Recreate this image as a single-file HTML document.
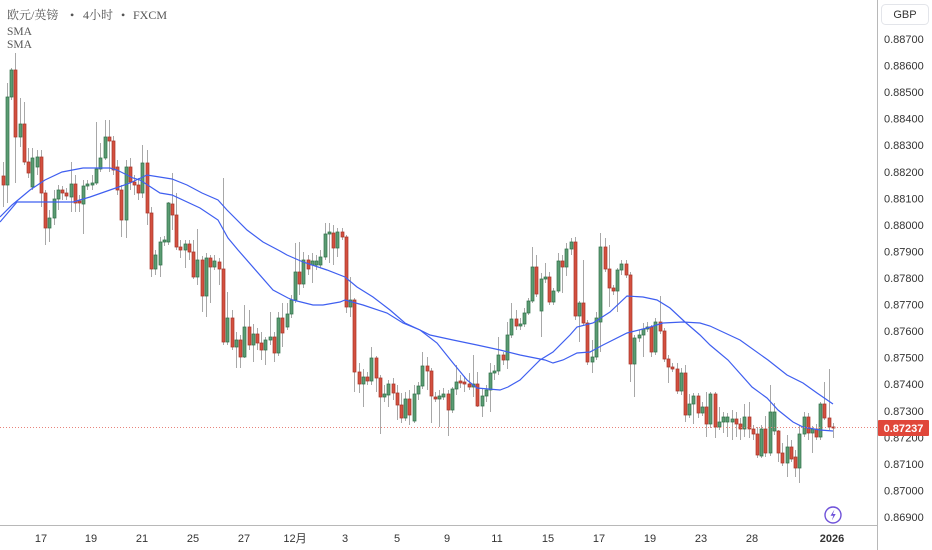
<!DOCTYPE html>
<html><head><meta charset="utf-8"><style>
html,body{margin:0;padding:0;background:#fff;}
svg{display:block;}
.ax{font-family:"Liberation Sans","Noto Sans CJK SC",sans-serif;font-size:11px;fill:#333;}
.lg{font-family:"Liberation Serif","Noto Serif CJK SC",serif;font-size:12px;fill:#555;}
</style></head><body>
<svg width="932" height="550" viewBox="0 0 932 550" xmlns="http://www.w3.org/2000/svg">
<rect width="932" height="550" fill="#fff"/>
<!-- wicks -->
<path fill="none" stroke="#a8a8a8" stroke-width="1" d="M3.5 162V207M7.5 83V203M11.5 68V100M15.5 53V183M20.5 98V147M24.5 102V165M28.5 148V178M32.5 148V190M37.5 150V175M41.5 150V207M45.5 190V245M49.5 210V242M54.5 190V225M58.5 185V210M62.5 186V200M66.5 188V200M71.5 162V212M75.5 175V212M79.5 195V212M83.5 180V234M87.5 180V190M92.5 175V190M96.5 122V185M100.5 143V172M105.5 120V160M109.5 120V172M113.5 136V175M117.5 160V195M121.5 185V237M126.5 160V238M130.5 158V190M134.5 175V195M138.5 178V200M142.5 145V198M147.5 150V225M151.5 207V277M155.5 250V275M160.5 237V277M164.5 236V246M168.5 202V245M172.5 173V230M176.5 193V250M180.5 240V258M185.5 240V268M189.5 240V260M193.5 240V279M197.5 229V285M202.5 256V312M206.5 253V317M210.5 255V303M214.5 255V270M219.5 258V285M223.5 178V345M227.5 292V345M232.5 310V350M236.5 332V368M240.5 335V368M244.5 305V358M249.5 310V350M253.5 324V362M257.5 328V350M261.5 332V360M265.5 337V365M270.5 312V345M274.5 332V362M278.5 312V356M282.5 303V347M287.5 303V330M291.5 295V318M295.5 243V303M299.5 242V295M303.5 252V288M308.5 255V275M312.5 253V283M316.5 255V270M320.5 250V268M325.5 223V260M329.5 223V263M333.5 225V265M337.5 228V257M342.5 228V240M346.5 235V313M350.5 277V317M354.5 298V392M359.5 363V393M363.5 369V407M367.5 372V385M371.5 347V385M376.5 356V392M380.5 375V434M384.5 385V402M388.5 380V407M393.5 378V400M397.5 385V420M401.5 393V423M405.5 392V421M409.5 390V425M414.5 385V423M418.5 382V400M422.5 352V389M427.5 357V390M431.5 368V423M435.5 392V402M439.5 390V427M443.5 388V400M448.5 390V436M452.5 387V413M456.5 365V395M460.5 375V388M464.5 376V392M469.5 373V390M473.5 355V397M477.5 372V407M482.5 388V417M486.5 385V402M490.5 363V412M494.5 365V380M498.5 337V375M503.5 352V365M507.5 322V369M511.5 303V338M516.5 310V330M520.5 318V330M524.5 308V327M528.5 298V315M532.5 247V303M536.5 255V297M541.5 273V337M545.5 263V283M549.5 272V305M553.5 288V305M558.5 253V293M562.5 255V293M566.5 243V276M571.5 238V255M575.5 237V320M579.5 301V342M583.5 260V326M587.5 320V365M592.5 340V373M596.5 312V360M600.5 233V352M605.5 238V272M609.5 245V307M613.5 285V295M617.5 268V312M621.5 260V275M626.5 260V278M630.5 272V382M634.5 335V397M639.5 330V342M643.5 323V357M647.5 322V332M651.5 325V357M655.5 318V355M660.5 296V334M664.5 328V362M668.5 355V383M672.5 363V372M677.5 363V394M681.5 368V395M685.5 365V422M689.5 394V418M693.5 393V424M698.5 393V418M702.5 402V416M706.5 392V437M710.5 392V428M715.5 392V438M719.5 407V430M723.5 412V433M727.5 413V437M732.5 410V440M736.5 412V437M740.5 418V440M744.5 404V437M749.5 402V438M753.5 425V440M757.5 427V458M761.5 425V458M765.5 416V457M770.5 385V456M774.5 403V435M778.5 430V462M782.5 443V466M787.5 435V477M791.5 440V462M795.5 450V477M799.5 425V483M804.5 412V437M808.5 413V440M812.5 426V453M816.5 424V440M820.5 402V440M824.5 382V420M829.5 369V430M833.5 423V438"/>
<!-- green bodies -->
<path fill="#5b9c73" stroke="#2f7148" stroke-width="0.7" d="M6 97h3v88h-3zM10 70h3v27h-3zM19 124h3v13h-3zM31 158h3v29h-3zM36 157h3v10h-3zM48 218h3v10h-3zM53 199h3v19h-3zM57 190h3v9h-3zM70 184h3v13h-3zM82 186h3v18h-3zM86 184h3v2h-3zM91 183h3v2h-3zM95 169h3v14h-3zM99 158h3v11h-3zM104 137h3v21h-3zM125 167h3v53h-3zM141 163h3v30h-3zM154 255h3v14h-3zM159 242h3v23h-3zM163 240h3v2h-3zM167 203h3v39h-3zM184 244h3v6h-3zM196 260h3v17h-3zM205 258h3v38h-3zM213 261h3v6h-3zM226 318h3v24h-3zM235 340h3v7h-3zM243 327h3v30h-3zM252 334h3v11h-3zM264 340h3v10h-3zM269 337h3v3h-3zM277 318h3v35h-3zM286 314h3v13h-3zM290 300h3v14h-3zM294 272h3v28h-3zM302 260h3v24h-3zM311 261h3v4h-3zM315 261h3v4h-3zM319 257h3v8h-3zM324 234h3v23h-3zM328 232h3v2h-3zM336 232h3v16h-3zM349 300h3v7h-3zM362 377h3v7h-3zM370 358h3v23h-3zM383 394h3v3h-3zM387 384h3v11h-3zM404 399h3v19h-3zM413 394h3v27h-3zM417 386h3v8h-3zM421 366h3v20h-3zM438 396h3v3h-3zM442 394h3v3h-3zM451 389h3v21h-3zM455 382h3v7h-3zM472 384h3v3h-3zM481 396h3v10h-3zM485 390h3v6h-3zM489 373h3v17h-3zM493 371h3v2h-3zM497 355h3v16h-3zM506 335h3v25h-3zM510 319h3v16h-3zM519 324h3v2h-3zM523 313h3v11h-3zM527 301h3v12h-3zM531 267h3v34h-3zM540 279h3v32h-3zM544 277h3v2h-3zM552 291h3v11h-3zM557 261h3v30h-3zM565 249h3v18h-3zM570 242h3v7h-3zM578 303h3v13h-3zM591 357h3v5h-3zM595 318h3v39h-3zM599 247h3v75h-3zM616 270h3v21h-3zM620 264h3v6h-3zM633 338h3v26h-3zM638 335h3v3h-3zM642 329h3v6h-3zM646 327h3v2h-3zM654 322h3v30h-3zM680 373h3v18h-3zM688 404h3v11h-3zM692 396h3v8h-3zM701 407h3v6h-3zM709 394h3v30h-3zM718 422h3v5h-3zM722 417h3v5h-3zM726 417h3v5h-3zM731 419h3v3h-3zM743 417h3v12h-3zM760 429h3v27h-3zM769 412h3v41h-3zM773 412h3v19h-3zM786 447h3v16h-3zM798 434h3v34h-3zM803 417h3v17h-3zM811 429h3v4h-3zM819 404h3v33h-3z"/>
<!-- red bodies -->
<path fill="#d4503f" stroke="#a8352a" stroke-width="0.7" d="M2 176h3v9h-3zM14 70h3v67h-3zM23 124h3v38h-3zM27 162h3v11h-3zM40 157h3v36h-3zM44 193h3v35h-3zM61 190h3v3h-3zM65 193h3v3h-3zM74 184h3v19h-3zM78 201h3v2h-3zM108 137h3v4h-3zM112 141h3v29h-3zM116 167h3v23h-3zM120 190h3v30h-3zM129 167h3v15h-3zM133 182h3v3h-3zM137 185h3v8h-3zM146 163h3v50h-3zM150 213h3v56h-3zM171 204h3v11h-3zM175 215h3v32h-3zM179 247h3v3h-3zM188 244h3v8h-3zM192 252h3v25h-3zM201 260h3v36h-3zM209 258h3v9h-3zM218 262h3v7h-3zM222 269h3v73h-3zM231 318h3v29h-3zM239 340h3v17h-3zM248 327h3v18h-3zM256 334h3v9h-3zM260 343h3v7h-3zM273 337h3v16h-3zM281 318h3v15h-3zM298 272h3v12h-3zM307 260h3v9h-3zM332 233h3v15h-3zM341 232h3v5h-3zM345 237h3v70h-3zM353 300h3v72h-3zM358 372h3v12h-3zM366 377h3v4h-3zM375 358h3v20h-3zM379 378h3v19h-3zM392 384h3v9h-3zM396 393h3v12h-3zM400 405h3v13h-3zM408 399h3v16h-3zM426 366h3v5h-3zM430 371h3v25h-3zM434 397h3v2h-3zM447 394h3v16h-3zM459 381h3v2h-3zM463 382h3v2h-3zM468 384h3v3h-3zM476 384h3v22h-3zM502 355h3v5h-3zM515 319h3v7h-3zM535 267h3v27h-3zM548 277h3v25h-3zM561 261h3v6h-3zM574 242h3v74h-3zM582 303h3v20h-3zM586 323h3v39h-3zM604 247h3v22h-3zM608 269h3v19h-3zM612 288h3v3h-3zM625 264h3v11h-3zM629 275h3v89h-3zM650 327h3v25h-3zM659 322h3v9h-3zM663 331h3v28h-3zM667 359h3v8h-3zM671 367h3v2h-3zM676 369h3v22h-3zM684 373h3v42h-3zM697 396h3v17h-3zM705 407h3v17h-3zM714 394h3v33h-3zM735 419h3v5h-3zM739 424h3v5h-3zM748 417h3v12h-3zM752 429h3v5h-3zM756 434h3v21h-3zM764 429h3v24h-3zM777 431h3v22h-3zM781 453h3v10h-3zM790 447h3v12h-3zM794 457h3v11h-3zM807 417h3v16h-3zM815 429h3v8h-3zM823 404h3v14h-3zM828 418h3v9h-3zM832 427h3v1h-3z"/>
<!-- SMA lines -->
<polyline fill="none" stroke="#3f5ff0" stroke-width="1.2" points="0,217 12,205 30,190 45,180 62,172 83,168 110,168 117,170 133,178 140,180 160,193 172,195 200,208 218,220 228,238 238,250 273,290 288,298 293,300 313,305 323,305 340,302 345,300 363,305 387,313 403,323 420,330 437,343 453,363 467,380 477,388 500,390 508,387 520,380 530,370 540,360 553,352 570,335 577,327 593,323 610,312 627,296 643,297 657,300 670,308 685,322 700,335 710,345 728,360 752,387 767,398 778,410 793,422 803,427 820,430 833,431"/>
<polyline fill="none" stroke="#3f5ff0" stroke-width="1.2" points="0,222 17,202 40,202 73,202 90,197 110,190 130,183 147,175 172,179 187,185 202,193 218,200 227,210 247,230 263,242 280,251 287,255 303,262 327,270 345,277 357,287 373,297 390,310 405,323 420,330 430,335 453,340 477,345 500,350 520,355 545,360 553,363 563,360 577,353 590,352 603,345 627,333 647,328 663,323 683,322 700,323 710,326 740,340 768,360 787,375 803,383 817,393 833,404"/>
<!-- current price dotted line -->
<line x1="0" y1="427.5" x2="877" y2="427.5" stroke="#e8837a" stroke-width="1" stroke-dasharray="1,2"/>
<!-- axes -->
<line x1="877.5" y1="0" x2="877.5" y2="550" stroke="#b8b8b8" stroke-width="1"/>
<line x1="0" y1="525.5" x2="877" y2="525.5" stroke="#b8b8b8" stroke-width="1"/>
<!-- legend -->
<text class="lg" x="7" y="19">欧元/英镑</text>
<text class="lg" x="70" y="19">•</text>
<text class="lg" x="83" y="19">4小时</text>
<text class="lg" x="121" y="19">•</text>
<text class="lg" x="133" y="19">FXCM</text>
<text class="lg" x="7" y="35" style="font-size:11.5px">SMA</text>
<text class="lg" x="7" y="48" style="font-size:11.5px">SMA</text>
<!-- GBP box -->
<rect x="881.5" y="4.5" width="47" height="20" rx="4" fill="#fff" stroke="#e3e5ea"/>
<text class="ax" x="905" y="18" text-anchor="middle">GBP</text>
<!-- price labels -->
<g class="ax">
<text x="884" y="43">0.88700</text>
<text x="884" y="69.6">0.88600</text>
<text x="884" y="96.1">0.88500</text>
<text x="884" y="122.7">0.88400</text>
<text x="884" y="149.2">0.88300</text>
<text x="884" y="175.8">0.88200</text>
<text x="884" y="202.3">0.88100</text>
<text x="884" y="228.9">0.88000</text>
<text x="884" y="255.4">0.87900</text>
<text x="884" y="282">0.87800</text>
<text x="884" y="308.6">0.87700</text>
<text x="884" y="335.1">0.87600</text>
<text x="884" y="361.7">0.87500</text>
<text x="884" y="388.2">0.87400</text>
<text x="884" y="414.8">0.87300</text>
<text x="884" y="441.3">0.87200</text>
<text x="884" y="467.9">0.87100</text>
<text x="884" y="494.4">0.87000</text>
<text x="884" y="521">0.86900</text>
</g>
<!-- current price label -->
<rect x="878" y="420" width="51" height="16" rx="1" fill="#e0473a"/>
<text x="903.5" y="432" text-anchor="middle" style="font-family:'Liberation Sans',sans-serif;font-size:11px;font-weight:bold;fill:#fff;">0.87237</text>
<!-- date labels -->
<g class="ax" text-anchor="middle">
<text x="41" y="542">17</text>
<text x="91" y="542">19</text>
<text x="142" y="542">21</text>
<text x="193" y="542">25</text>
<text x="244" y="542">27</text>
<text x="295" y="542">12月</text>
<text x="345" y="542">3</text>
<text x="397" y="542">5</text>
<text x="447" y="542">9</text>
<text x="497" y="542">11</text>
<text x="548" y="542">15</text>
<text x="599" y="542">17</text>
<text x="650" y="542">19</text>
<text x="701" y="542">23</text>
<text x="752" y="542">28</text>
<text x="832" y="542" font-weight="bold">2026</text>
</g>
<!-- lightning icon -->
<circle cx="833" cy="515" r="8" fill="#fff" stroke="#6f52d9" stroke-width="1.4"/>
<path d="M834.5 509.5 L830.5 515.8 H833.3 L831.8 520.5 L835.7 514 H832.9 Z" fill="#6f52d9"/>
</svg>
</body></html>
